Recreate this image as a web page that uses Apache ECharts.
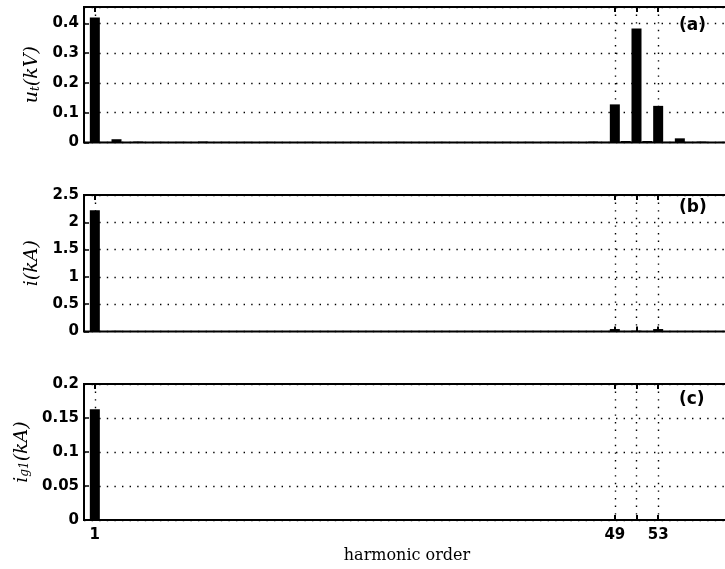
<!DOCTYPE html>
<html>
<head>
<meta charset="utf-8">
<script src="https://cdn.jsdelivr.net/npm/echarts@6/dist/echarts.min.js"></script>
<style>
  html, body { margin: 0; padding: 0; background: #fff; overflow: hidden; }
  #chart { width: 734px; height: 569px; }
</style>
</head>
<body>
<div id="chart"></div>
<script>
// Harmonic orders 1..59
const harmonicOrder = [
  1, 2, 3, 4, 5, 6, 7, 8, 9, 10,
  11, 12, 13, 14, 15, 16, 17, 18, 19, 20,
  21, 22, 23, 24, 25, 26, 27, 28, 29, 30,
  31, 32, 33, 34, 35, 36, 37, 38, 39, 40,
  41, 42, 43, 44, 45, 46, 47, 48, 49, 50,
  51, 52, 53, 54, 55, 56, 57, 58, 59
];

// (a) terminal voltage spectrum, kV
const voltageKV = [
  0.420, 0.002, 0.011, 0.001, 0.003, 0.001, 0.002, 0.001, 0.002, 0.001,
  0.003, 0.001, 0.002, 0.001, 0.002, 0.001, 0.002, 0.001, 0.001, 0.001,
  0.002, 0.001, 0.001, 0.001, 0.002, 0.001, 0.001, 0.001, 0.002, 0.001,
  0.001, 0.001, 0.002, 0.001, 0.001, 0.001, 0.002, 0.001, 0.002, 0.001,
  0.002, 0.001, 0.002, 0.001, 0.002, 0.001, 0.003, 0.002, 0.128, 0.005,
  0.383, 0.005, 0.123, 0.002, 0.014, 0.002, 0.003, 0.001, 0.002
];

// (b) line current spectrum, kA
const currentKA = [
  2.220, 0.003, 0.012, 0.002, 0.004, 0.002, 0.003, 0.002, 0.002, 0.002,
  0.003, 0.002, 0.002, 0.002, 0.002, 0.002, 0.002, 0.002, 0.002, 0.002,
  0.002, 0.002, 0.002, 0.002, 0.002, 0.002, 0.002, 0.002, 0.002, 0.002,
  0.002, 0.002, 0.002, 0.002, 0.002, 0.002, 0.002, 0.002, 0.002, 0.002,
  0.002, 0.002, 0.002, 0.002, 0.002, 0.002, 0.002, 0.002, 0.045, 0.004,
  0.015, 0.004, 0.045, 0.002, 0.003, 0.002, 0.002, 0.002, 0.002
];

// (c) grid-side current spectrum, kA
const gridCurrentKA = [
  0.163, 0.0003, 0.0015, 0.0003, 0.0004, 0.0003, 0.0003, 0.0003, 0.0003, 0.0003,
  0.0003, 0.0003, 0.0003, 0.0003, 0.0003, 0.0003, 0.0003, 0.0003, 0.0003, 0.0003,
  0.0003, 0.0003, 0.0003, 0.0003, 0.0003, 0.0003, 0.0003, 0.0003, 0.0003, 0.0003,
  0.0003, 0.0003, 0.0003, 0.0003, 0.0003, 0.0003, 0.0003, 0.0003, 0.0003, 0.0003,
  0.0003, 0.0003, 0.0003, 0.0003, 0.0003, 0.0003, 0.0003, 0.0003, 0.0012, 0.0003,
  0.0008, 0.0003, 0.0012, 0.0003, 0.0003, 0.0003, 0.0003, 0.0003, 0.0003
];

// x-axis ticks and labels
const xTickValues = [1, 49, 51, 53];
const xLabelValues = [1, 49, 53];

// per-panel y-axis settings
const yMax = [0.455, 2.5, 0.2];
const yStep = [0.1, 0.5, 0.05];
const panelTags = ['(a)', '(b)', '(c)'];

const chart = echarts.init(document.getElementById('chart'));

const gridTops = [7, 195, 384];
const gridHeights = [135.5, 136.5, 136];
const dotted = { color: '#000', width: 1.4, type: [1.4, 6.2] };
const tickFont = { fontFamily: 'DejaVu Sans', fontWeight: 'bold', fontSize: 15, color: '#000' };
const nameRich = {
  v: { fontFamily: 'DejaVu Serif', fontStyle: 'italic', fontSize: 19, color: '#000' },
  s: { fontFamily: 'DejaVu Serif', fontStyle: 'italic', fontSize: 12, color: '#000', verticalAlign: 'bottom' }
};

const grids = gridTops.map((t, i) => ({
  left: 84, right: 0, top: t, height: gridHeights[i],
  show: true, borderColor: '#000', borderWidth: 2, backgroundColor: 'transparent'
}));

const xAxes = [];
[0, 1, 2].forEach(i => {
  xAxes.push({
    type: 'value', gridIndex: i, min: 0, max: 60, position: 'bottom',
    axisLine: { show: false },
    axisTick: { show: true, inside: true, length: 5, customValues: xTickValues, lineStyle: { color: '#000', width: 2 } },
    axisLabel: { show: i === 2, customValues: xLabelValues, margin: 8, ...tickFont },
    splitLine: { show: true, lineStyle: dotted }
  });
  xAxes.push({
    type: 'value', gridIndex: i, min: 0, max: 60, position: 'top',
    axisLine: { show: false },
    axisTick: { show: true, inside: true, length: 5, customValues: xTickValues, lineStyle: { color: '#000', width: 2 } },
    axisLabel: { show: false },
    splitLine: { show: false }
  });
});

const yNames = [
  '{v|u}{s|t}{v|(kV)}',
  '{v|i(kA)}',
  '{v|i}{s|g1}{v|(kA)}'
];
const yGaps = [38, 33, 40];

const yAxes = [0, 1, 2].map(i => ({
  type: 'value', gridIndex: i, min: 0, max: yMax[i], interval: yStep[i],
  name: yNames[i], nameLocation: 'middle', nameGap: yGaps[i],
  nameTextStyle: { rich: nameRich },
  axisLine: { show: false },
  axisTick: { show: true, inside: true, length: 5, lineStyle: { color: '#000', width: 1.5 } },
  axisLabel: { margin: 5, showMaxLabel: i !== 0, ...tickFont },
  splitLine: { show: true, lineStyle: dotted }
}));

const spectra = [voltageKV, currentKA, gridCurrentKA];
const series = spectra.map((vals, i) => ({
  type: 'bar', xAxisIndex: i * 2, yAxisIndex: i,
  data: harmonicOrder.map((h, k) => [h, vals[k]]),
  barWidth: 10,
  itemStyle: { color: '#000' },
  silent: true,
  animation: false
}));

const tagY = [26, 208, 400];
const graphics = panelTags.map((t, i) => ({
  type: 'text', x: 679, y: tagY[i],
  style: { text: t, fontFamily: 'DejaVu Sans', fontWeight: 'bold', fontSize: 17, fill: '#000', verticalAlign: 'middle' }
}));
graphics.push({
  type: 'text', x: 407, y: 556,
  style: { text: 'harmonic order', textAlign: 'center', verticalAlign: 'middle', fontFamily: 'DejaVu Serif', fontSize: 16, fill: '#000' }
});

chart.setOption({
  animation: false,
  grid: grids,
  xAxis: xAxes,
  yAxis: yAxes,
  series: series,
  graphic: graphics
});
</script>
</body>
</html>
